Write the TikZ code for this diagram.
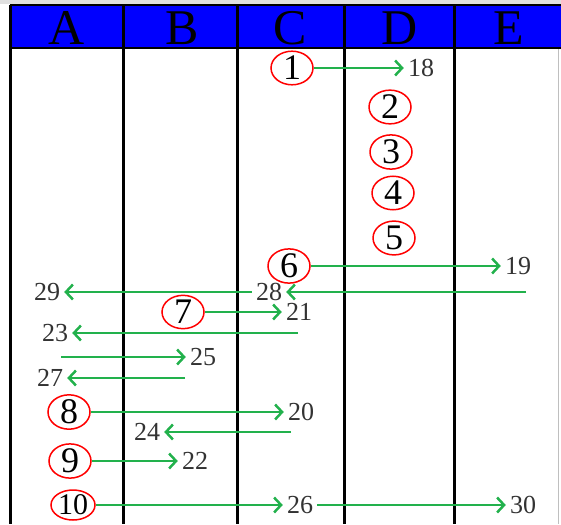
\documentclass[tikz,border=0pt]{standalone}
\usepackage{fontspec}
\setmainfont{Liberation Serif}
\usepackage{tikz}
\usetikzlibrary{arrows.meta, positioning, shapes.geometric}
\usepackage{xcolor}
\definecolor{arrgreen}{RGB}{34,177,76}
\definecolor{headblue}{RGB}{0,0,255}

\begin{document}
\begin{tikzpicture}[
  x=1pt, y=-1pt,
  every node/.style={font=\fontsize{26}{26}\selectfont},
  stepnode/.style={ellipse, draw=red, line width=1.5pt, minimum width=42pt, minimum height=30pt, inner sep=0pt, font=\fontsize{36}{36}\selectfont},
  resnode/.style={text=black!80, inner sep=4pt},
  headnode/.style={font=\fontsize{50}{50}\selectfont},
  arr/.style={-{Straight Barb[length=7pt,width=15pt]}, line width=2.5pt, arrgreen},
  gridline/.style={line width=3pt}
]
\useasboundingbox (0,0) rectangle (561,524);
\fill[black!12] (0,0) rectangle (561,4);
\draw[black!25, line width=1pt] (558,4) -- (558,524);

% Header
\fill[headblue] (10,5) rectangle (561,48);
\draw[line width=2pt] (10,5) -- (561,5);
\draw[line width=2pt] (10,48) -- (561,48);
\foreach \x in {10,123,237,344,454}
  \draw[gridline] (\x,5) -- (\x,524);
\foreach \l/\x in {A/67,B/182,C/290,D/400,E/509}
  \node[headnode] (head\l) at (\x,28) {\l};

% Nodes
\node[stepnode] (s1)  at (292,68)  {1};
\node[stepnode] (s2)  at (390,107) {2};
\node[stepnode] (s3)  at (391,152) {3};
\node[stepnode] (s4)  at (393,193) {4};
\node[stepnode] (s5)  at (394,238) {5};
\node[stepnode] (s6)  at (289,266) {6};
\node[stepnode] (s7)  at (183,312) {7};
\node[stepnode] (s8)  at (69,412)  {8};
\node[stepnode] (s9)  at (70,461)  {9};
\node[stepnode, font=\fontsize{30}{30}\selectfont, minimum width=44pt] (s10) at (73,505) {10};

\node[resnode] (r18) at (421,68)  {18};
\node[resnode] (r19) at (518,266) {19};
\node[resnode] (r20) at (301,412) {20};
\node[resnode] (r21) at (299,312) {21};
\node[resnode] (r22) at (195,461) {22};
\node[resnode] (r23) at (55,333)  {23};
\node[resnode] (r24) at (147,432) {24};
\node[resnode] (r25) at (203,357) {25};
\node[resnode] (r26) at (300,505) {26};
\node[resnode] (r27) at (50,378)  {27};
\node[resnode] (r28) at (269,292) {28};
\node[resnode] (r29) at (47,292)  {29};
\node[resnode] (r30) at (523,505) {30};

\coordinate (in28) at (526,292);
\coordinate (in23) at (298,333);
\coordinate (in25) at (61,357);
\coordinate (in27) at (185,378);
\coordinate (in24) at (291,432);

% Edges
\draw[arr] (s1) -- (r18);
\draw[arr] (s6) -- (r19);
\draw[arr] (in28) -- (r28);
\draw[arr] (r28) -- (r29);
\draw[arr] (s7) -- (r21);
\draw[arr] (in23) -- (r23);
\draw[arr] (in25) -- (r25);
\draw[arr] (in27) -- (r27);
\draw[arr] (s8) -- (r20);
\draw[arr] (in24) -- (r24);
\draw[arr] (s9) -- (r22);
\draw[arr] (s10) -- (r26);
\draw[arr] (r26) -- (r30);

\end{tikzpicture}
\end{document}
